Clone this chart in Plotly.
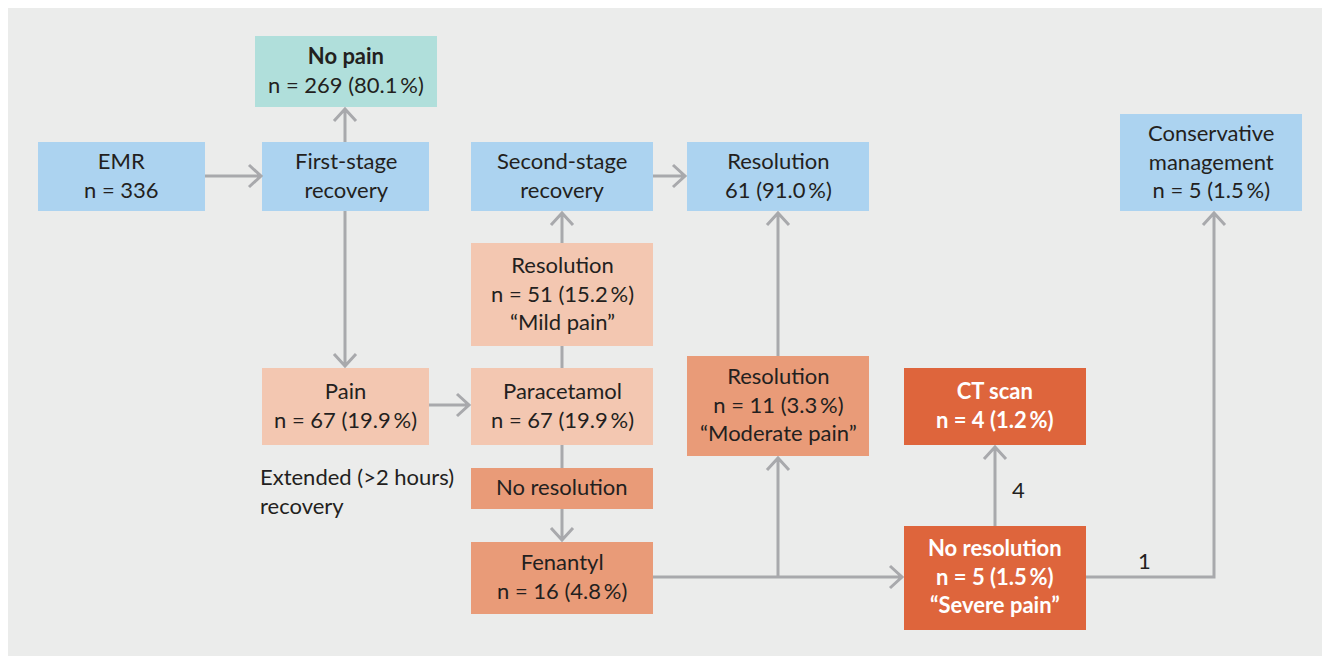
import plotly.graph_objects as go

# ---- data: flowchart node texts ----
node_ids = ["emr", "first", "nopain", "pain", "para", "res51", "second", "res61",
            "nores", "fen", "res11", "ct", "severe", "cons"]
node_titles = ["EMR", "First-stage<br>recovery", "<b>No pain</b>", "Pain", "Paracetamol",
               "Resolution", "Second-stage<br>recovery", "Resolution", "No resolution",
               "Fenantyl", "Resolution", "<b>CT scan</b>", "<b>No resolution</b>",
               "Conservative<br>management"]
node_counts = ["n = 336", "", "n = 269 (80.1\u2009%)", "n = 67 (19.9\u2009%)", "n = 67 (19.9\u2009%)",
               "n = 51 (15.2\u2009%)", "", "61 (91.0\u2009%)", "", "n = 16 (4.8\u2009%)",
               "n = 11 (3.3\u2009%)", "<b>n = 4 (1.2\u2009%)</b>", "<b>n = 5 (1.5\u2009%)</b>",
               "n = 5 (1.5\u2009%)"]
node_notes = ["", "", "", "", "", "“Mild pain”", "", "", "", "",
              "“Moderate pain”", "", "<b>“Severe pain”</b>", ""]
edge_labels = {"severe_ct": "4", "severe_cons": "1"}
side_note = "Extended (>2 hours)<br>recovery"

# ---- layout (pixel geometry) ----
BLUE, TEAL = "#acd3f0", "#b0dfdb"
LIGHT, MED, DARK = "#f3c7b1", "#e99b78", "#de653c"
kinds = {"emr": BLUE, "first": BLUE, "nopain": TEAL, "pain": LIGHT, "para": LIGHT,
         "res51": LIGHT, "second": BLUE, "res61": BLUE, "nores": MED, "fen": MED,
         "res11": MED, "ct": DARK, "severe": DARK, "cons": BLUE}
boxes = {
    "emr": (38, 142, 205, 211), "first": (262, 142, 429, 211),
    "nopain": (255, 36, 437, 107), "pain": (262, 368, 429, 445),
    "para": (471, 368, 653, 445), "res51": (471, 243, 653, 346),
    "second": (471, 142, 653, 211), "res61": (687, 142, 869, 211),
    "nores": (471, 468, 653, 509), "fen": (471, 542, 653, 614),
    "res11": (687, 356, 869, 456), "ct": (904, 368, 1086, 445),
    "severe": (904, 526, 1086, 630), "cons": (1120, 114, 1302, 211),
}
edges = [
    ([(205, 176), (261, 176)], True),
    ([(345, 142), (345, 109)], True),
    ([(345, 211), (345, 366)], True),
    ([(429, 405), (469, 405)], True),
    ([(562, 368), (562, 346)], False),
    ([(562, 243), (562, 213)], True),
    ([(653, 176), (685, 176)], True),
    ([(562, 445), (562, 468)], False),
    ([(562, 509), (562, 540)], True),
    ([(653, 577), (902, 577)], True),
    ([(778, 577), (778, 458)], True),
    ([(778, 356), (778, 213)], True),
    ([(995, 526), (995, 447)], True),
    ([(1086, 577), (1214, 577), (1214, 213)], True),
]
LINE = "#a8a9ac"
FONT = "Lato"
FS = 22
TXT = "#231f20"
PAGE_MARGIN = 8  # browser default body margin

fig = go.Figure()
fig.add_trace(go.Scatter(x=[0, 1330], y=[0, 661], mode="markers",
                         marker=dict(opacity=0), hoverinfo="skip", showlegend=False))

shapes = [dict(type="rect", x0=8, y0=7, x1=1326, y1=656, fillcolor="#ebeceb",
               line=dict(width=0), layer="below")]
for nid in node_ids:
    x0, y0, x1, y1 = boxes[nid]
    shapes.append(dict(type="rect", x0=x0, y0=y0, x1=x1, y1=y1,
                       fillcolor=kinds[nid], line=dict(width=0), layer="below"))

for pts, arrow in edges:
    path = "M " + " L ".join(f"{x},{y}" for x, y in pts)
    if arrow:
        (xa, ya), (xb, yb) = pts[-2], pts[-1]
        dx, dy = xb - xa, yb - ya
        L = (dx * dx + dy * dy) ** 0.5
        ux, uy = dx / L, dy / L
        px, py = -uy, ux
        d, w = 12, 11
        p1 = (xb - ux * d + px * w, yb - uy * d + py * w)
        p2 = (xb - ux * d - px * w, yb - uy * d - py * w)
        path += f" M {p1[0]},{p1[1]} L {xb},{yb} L {p2[0]},{p2[1]}"
    shapes.append(dict(type="path", path=path, line=dict(color=LINE, width=3),
                       layer="above"))

annotations = []
for i, nid in enumerate(node_ids):
    x0, y0, x1, y1 = boxes[nid]
    parts = [p for p in (node_titles[i], node_counts[i], node_notes[i]) if p]
    color = "white" if kinds[nid] == DARK else TXT
    annotations.append(dict(x=(x0 + x1) / 2, y=(y0 + y1) / 2 - 2, text="<br>".join(parts),
                            showarrow=False, xanchor="center", yanchor="middle",
                            font=dict(family=FONT, size=FS, color=color)))

annotations.append(dict(x=258, y=491, text=side_note, showarrow=False, xanchor="left",
                        yanchor="middle", align="left",
                        font=dict(family=FONT, size=FS, color=TXT)))
annotations.append(dict(x=1018, y=489, text=edge_labels["severe_ct"], showarrow=False,
                        font=dict(family=FONT, size=FS, color=TXT)))
annotations.append(dict(x=1144, y=560, text=edge_labels["severe_cons"], showarrow=False,
                        font=dict(family=FONT, size=FS, color=TXT)))

W, H = 1330, 661
fig.update_layout(
    width=W - PAGE_MARGIN, height=H - PAGE_MARGIN, margin=dict(l=0, r=0, t=0, b=0),
    paper_bgcolor="white", plot_bgcolor="white",
    xaxis=dict(range=[PAGE_MARGIN, W], visible=False, fixedrange=True),
    yaxis=dict(range=[H, PAGE_MARGIN], visible=False, fixedrange=True),
    shapes=shapes, annotations=annotations, showlegend=False,
)
fig.write_html("out.html")
